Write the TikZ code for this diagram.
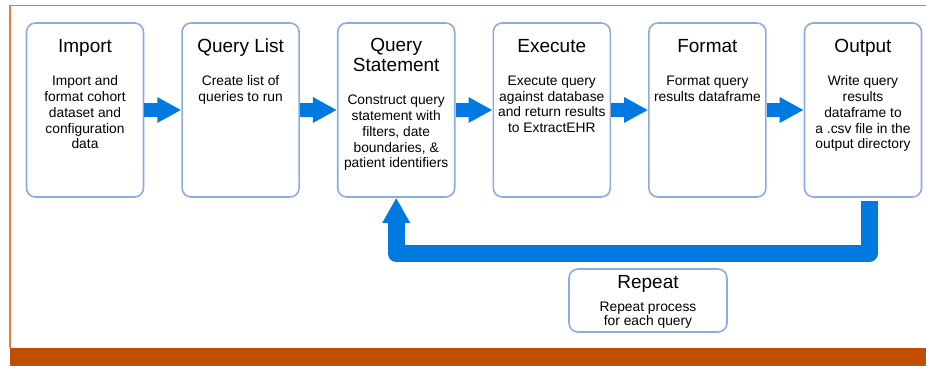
\documentclass[tikz,border=0pt]{standalone}
\usepackage{fontspec}
\setmainfont{Liberation Sans}
\usetikzlibrary{arrows.meta,positioning}
\definecolor{quadro}{RGB}{143,170,220}
\definecolor{azul}{RGB}{0,122,224}
\definecolor{laranja}{RGB}{226,125,60}
\definecolor{faixa}{RGB}{194,79,0}

\begin{document}
\begin{tikzpicture}[x=1pt, y=1pt,
caixa/.style={draw=quadro, line width=1.6pt, rounded corners=9pt, minimum width=117pt, minimum height=174pt},
titulo/.style={align=center, anchor=north, inner sep=0pt, font=\fontsize{19}{20}\selectfont, execute at begin node=\strut, execute at end node=\strut},
texto/.style={align=center, inner sep=0pt, font=\fontsize{13.8}{15.8}\selectfont, execute at begin node=\strut, execute at end node=\strut},
seta/.style={azul, line width=14pt, -{Triangle[length=24pt, width=24pt]}},
laco/.style={azul, line width=17pt, line join=round, -{Triangle[length=25pt, width=26pt]}}
]
\useasboundingbox (0,0) rectangle (926,-366);
\fill[faixa] (10,-348) rectangle (926,-366);
\draw[laranja, line width=1.8pt] (926,-5.5) -- (10,-5.5) -- (10,-348);

\node[caixa] (imp) at (85,-110) {};
\node[titulo] (timp) at ([yshift=-16pt]imp.north) {Import};
\node[texto, below=17pt of timp] (ximp) {Import and\\format cohort\\dataset and\\configuration\\data};

\node[caixa] (lista) at (240.6,-110) {};
\node[titulo] (tlista) at ([yshift=-16pt]lista.north) {Query List};
\node[texto, below=17pt of tlista] (xlista) {Create list of\\queries to run};

\node[caixa] (consulta) at (396.2,-110) {};
\node[titulo] (tconsulta) at ([yshift=-16pt]consulta.north) {Query\\Statement};
\node[texto, below=17pt of tconsulta] (xconsulta) {Construct query\\statement with\\filters, date\\boundaries, \&\\patient identifiers};

\node[caixa] (exec) at (551.8,-110) {};
\node[titulo] (texec) at ([yshift=-16pt]exec.north) {Execute};
\node[texto, below=17pt of texec] (xexec) {Execute query\\against database\\and return results\\to ExtractEHR};

\node[caixa] (fmt) at (707.4,-110) {};
\node[titulo] (tfmt) at ([yshift=-16pt]fmt.north) {Format};
\node[texto, below=17pt of tfmt] (xfmt) {Format query\\results dataframe};

\node[caixa] (saida) at (863,-110) {};
\node[titulo] (tsaida) at ([yshift=-16pt]saida.north) {Output};
\node[texto, below=17pt of tsaida] (xsaida) {Write query\\results\\dataframe to\\a .csv file in the\\output directory};

\node[caixa, minimum width=158pt, minimum height=63pt] (rep) at (648,-300.5) {};
\node[titulo] (trep) at ([yshift=-6pt]rep.north) {Repeat};
\node[texto, font=\fontsize{13.8}{14.5}\selectfont, below=7pt of trep] (xrep) {Repeat process\\for each query};

\draw[seta] (imp) -- (lista);
\draw[seta] (lista) -- (consulta);
\draw[seta] (consulta) -- (exec);
\draw[seta] (exec) -- (fmt);
\draw[seta] (fmt) -- (saida);
\draw[laco] ([xshift=6pt, yshift=-3pt]saida.south) |- ([yshift=-56pt]consulta.south) -- (consulta.south);
\end{tikzpicture}
\end{document}
